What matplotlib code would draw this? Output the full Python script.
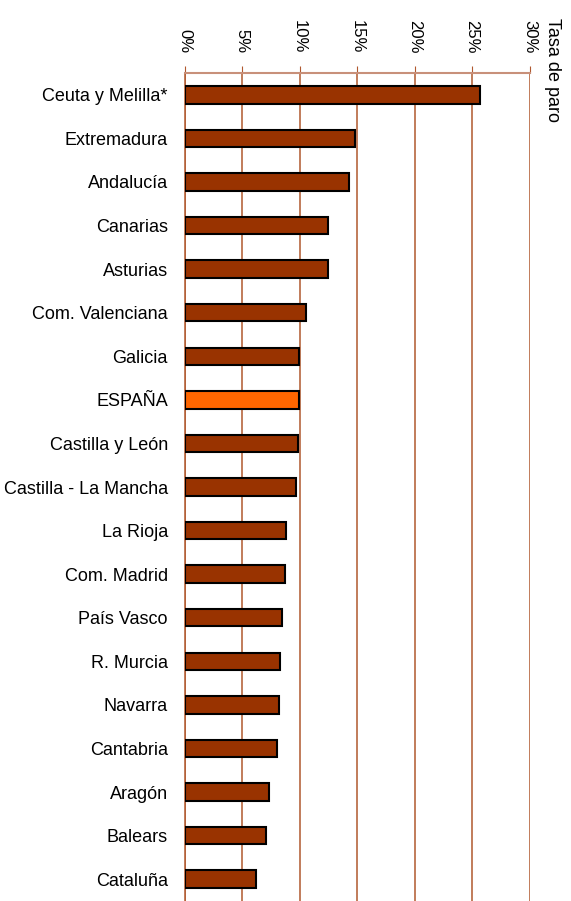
import matplotlib.pyplot as plt

regions = ['Ceuta y Melilla*', 'Extremadura', 'Andalucía', 'Canarias', 'Asturias',
           'Com. Valenciana', 'Galicia', 'ESPAÑA', 'Castilla y León',
           'Castilla - La Mancha', 'La Rioja', 'Com. Madrid', 'País Vasco',
           'R. Murcia', 'Navarra', 'Cantabria', 'Aragón', 'Balears', 'Cataluña']
paro = [25.7, 14.85, 14.3, 12.5, 12.45, 10.55, 9.97, 9.95, 9.9,
        9.7, 8.85, 8.75, 8.5, 8.3, 8.2, 8.0, 7.35, 7.1, 6.25]
xticks = [0, 5, 10, 15, 20, 25, 30]

font = ['Liberation Sans', 'DejaVu Sans']
grid_col = '#B0582E'

fig = plt.figure(figsize=(5.71, 9.01), dpi=100)
ax = fig.add_axes([184.5 / 571, 0.0, 345 / 571, 828 / 901])

colors = ['#FF6600' if r == 'ESPAÑA' else '#993300' for r in regions]
ypos = list(range(len(regions)))
ax.barh(ypos, paro, height=0.4, color=colors, edgecolor='black', linewidth=1.5, zorder=3)

ax.set_xlim(0, 30)
ax.set_ylim(len(regions) - 0.5, -0.5)

ax.xaxis.tick_top()
ax.set_xticks(xticks)
ax.set_xticklabels([f'{v}%' for v in xticks], rotation=-90, family=font, fontsize=12)
ax.tick_params(axis='x', direction='out', length=5, color=grid_col, pad=9)
ax.set_yticks(ypos)
ax.set_yticklabels(regions, family=font, fontsize=13)
ax.tick_params(axis='y', length=0, pad=12)

ax.xaxis.grid(True, color=grid_col, linewidth=1.1, zorder=0)
ax.set_axisbelow(True)

for s in ['right', 'bottom']:
    ax.spines[s].set_visible(False)
ax.spines['left'].set_color(grid_col)
ax.spines['left'].set_linewidth(1.1)
ax.spines['top'].set_color('#C8907A')
ax.spines['top'].set_linewidth(1.5)

fig.text(553 / 571, 1 - 18 / 901, 'Tasa de paro', rotation=-90, va='top', ha='center',
         family=font, fontsize=13)

fig.savefig('out.png', dpi=100)
